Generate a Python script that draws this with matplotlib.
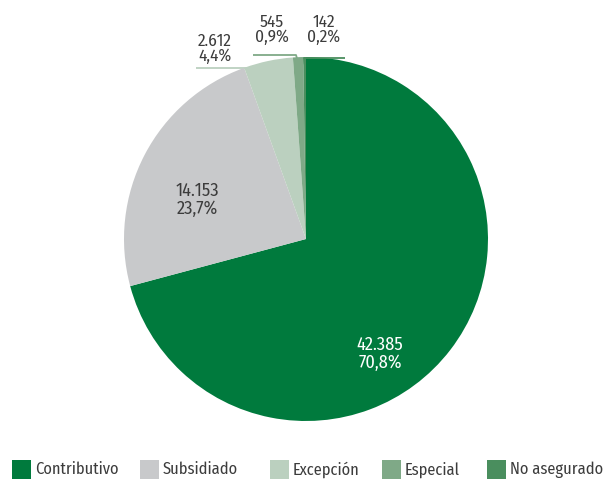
import matplotlib
matplotlib.use('Agg')

import numpy as np
import matplotlib.pyplot as plt
from matplotlib.patches import Rectangle

categories = ['Contributivo', 'Subsidiado', 'Excepción', 'Especial', 'No asegurado']
values = [42385, 14153, 2612, 545, 142]
value_labels = ['42.385', '14.153', '2.612', '545', '142']
pct_labels = ['70,8%', '23,7%', '4,4%', '0,9%', '0,2%']
colors = ['#007A3D', '#C8C9CB', '#BBD0BF', '#7FA987', '#4A8E5E']

W, H = 604, 480
FONT = dict(family=['Fira Sans Condensed', 'PT Sans Narrow', 'DejaVu Sans'], fontstretch='condensed')
TEXT = '#3c3c3c'

fig = plt.figure(figsize=(W / 100, H / 100), dpi=100)
ax = fig.add_axes([0, 0, 1, 1])

cx, cy, R = 306, H - 239, 182
wedges, _ = ax.pie(values, colors=colors, startangle=90, counterclock=False,
                   center=(cx, cy), radius=R, frame=True)
ax.set_xlim(0, W)
ax.set_ylim(0, H)
ax.set_aspect('equal')
ax.axis('off')


def px(x, y):
    return x, H - y


def on_wedge(w, frac_angle, rfrac):
    # point inside wedge w at fractional angle position and radius fraction
    a = np.radians(w.theta1 + (w.theta2 - w.theta1) * frac_angle)
    return cx + R * rfrac * np.cos(a), cy + R * rfrac * np.sin(a)


# labels inside the big wedges
inside = {0: ((380, 354), 'white'), 1: ((197, 200), TEXT)}
for i, ((x, y), c) in inside.items():
    ax.text(*px(x, y), value_labels[i] + '\n' + pct_labels[i], ha='center', va='center',
            color=c, fontsize=13.2, linespacing=0.98, **FONT)

# outside labels with leader lines (label center, elbow start, elbow end, wedge anchor)
outside = {
    2: ((215, 49), (196, 68), (248, 68), (0.85, 0.97)),
    3: ((272, 30), (253, 55), (296, 55), (0.5, 0.97)),
    4: ((324, 30), (345, 58), (304, 58), (0.5, 0.96)),
}
for i, ((lx, ly), e0, e1, (fa, fr)) in outside.items():
    ax.text(*px(lx, ly), value_labels[i] + '\n' + pct_labels[i], ha='center', va='center',
            color=TEXT, fontsize=12.4, linespacing=0.95, **FONT)
    ax_, ay_ = on_wedge(wedges[i], fa, fr)
    xs = [e0[0], e1[0], ax_]
    ys = [H - e0[1], H - e1[1], ay_]
    ax.plot(xs, ys, color=colors[i], lw=1.3, solid_capstyle='butt', zorder=0.5 if i < 4 else 3)

# legend, laid out by hand along the bottom
legend_x = [12, 140, 270, 382, 487]
box = 19
for x0, c, lab in zip(legend_x, colors, categories):
    ax.add_patch(Rectangle((x0, 1), box, box, color=c, lw=0, clip_on=False))
    ax.text(x0 + box + 4, 1 + box / 2, lab, ha='left', va='center', color=TEXT,
            fontsize=11.8, **FONT)

fig.savefig('out.png', dpi=100)
